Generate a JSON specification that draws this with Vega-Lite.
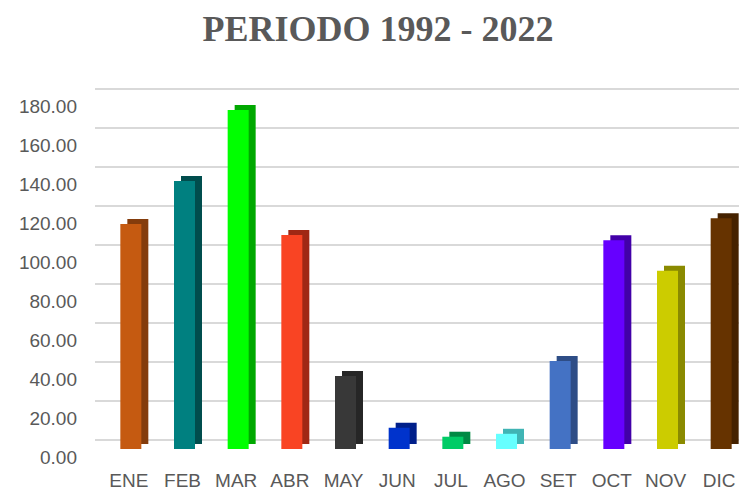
{
  "$schema": "https://vega.github.io/schema/vega-lite/v6.json",
  "autosize": {"type": "none"},
  "width": 644,
  "height": 351,
  "padding": {"left": 104, "top": 98, "right": 2, "bottom": 44},
  "background": "white",
  "config": {"view": {"stroke": null}},
  "title": {
    "text": "PERIODO 1992 - 2022",
    "font": "Liberation Serif",
    "fontSize": 36,
    "fontWeight": "bold",
    "color": "#595959",
    "anchor": "middle",
    "frame": "group",
    "dx": -48,
    "baseline": "alphabetic",
    "offset": 21
  },
  "data": {
    "values": [
      {"mes": "ENE", "valor": 115.4},
      {"mes": "FEB", "valor": 137.4},
      {"mes": "MAR", "valor": 173.8},
      {"mes": "ABR", "valor": 109.7},
      {"mes": "MAY", "valor": 37.4},
      {"mes": "JUN", "valor": 10.9},
      {"mes": "JUL", "valor": 6.3},
      {"mes": "AGO", "valor": 7.8},
      {"mes": "SET", "valor": 45.1},
      {"mes": "OCT", "valor": 107.0},
      {"mes": "NOV", "valor": 91.4},
      {"mes": "DIC", "valor": 118.3}
    ]
  },
  "encoding": {
    "x": {
      "field": "mes",
      "type": "nominal",
      "sort": null,
      "scale": {"paddingInner": 0, "paddingOuter": 0},
      "axis": {
        "title": null,
        "labelAngle": 0,
        "labelFont": "Liberation Sans",
        "labelFontSize": 19,
        "labelColor": "#595959",
        "labelPadding": 22,
        "labelOffset": -2,
        "ticks": false,
        "domain": false,
        "grid": false
      }
    },
    "y": {
      "field": "valor",
      "type": "quantitative",
      "scale": {"domain": [0, 180], "nice": false},
      "axis": {
        "title": null,
        "values": [0, 20, 40, 60, 80, 100, 120, 140, 160, 180],
        "format": ".2f",
        "labelFont": "Liberation Sans",
        "labelFontSize": 19,
        "labelColor": "#595959",
        "labelPadding": 18,
        "labelOffset": 18,
        "ticks": false,
        "domain": false,
        "grid": true,
        "gridColor": "#D9D9D9",
        "gridWidth": 2,
        "translate": -9
      }
    }
  },
  "layer": [
    {
      "mark": {"type": "bar", "size": 21, "xOffset": 7, "yOffset": -5, "y2Offset": -5},
      "encoding": {
        "color": {
          "field": "mes",
          "type": "nominal",
          "legend": null,
          "scale": {
            "domain": ["ENE","FEB","MAR","ABR","MAY","JUN","JUL","AGO","SET","OCT","NOV","DIC"],
            "range": ["#843C0C","#004D4D","#00A800","#A02814","#262626","#001F8A","#008A44","#40B4B4","#2E4D86","#4200A8","#8A8A00","#452200"]
          }
        }
      }
    },
    {
      "mark": {"type": "bar", "size": 21},
      "encoding": {
        "fill": {
          "field": "mes",
          "type": "nominal",
          "legend": null,
          "scale": {
            "domain": ["ENE","FEB","MAR","ABR","MAY","JUN","JUL","AGO","SET","OCT","NOV","DIC"],
            "range": ["#C55A11","#008080","#00FF00","#F94423","#383838","#0033CC","#00CC66","#66FFFF","#4472C4","#6600FF","#CCCC00","#663300"]
          }
        }
      }
    }
  ]
}
